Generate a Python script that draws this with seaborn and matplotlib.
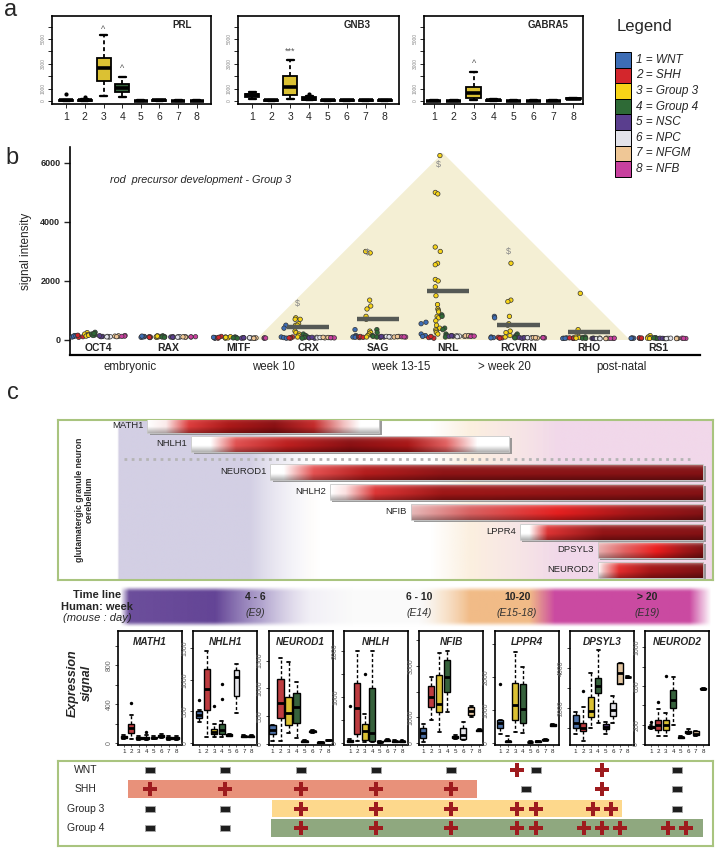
import numpy as np
import pandas as pd
import matplotlib
matplotlib.use("Agg")
import matplotlib.pyplot as plt
import seaborn as sns
from matplotlib.patches import Rectangle, Polygon
from matplotlib.colors import to_rgb

# ---------------- data ----------------
group_ids = ["1", "2", "3", "4", "5", "6", "7", "8"]
group_names = ["WNT", "SHH", "Group 3", "Group 4", "NSC", "NPC", "NFGM", "NFB"]
group_colors = ["#3d6db5", "#d3262c", "#f7d417", "#2e6a36", "#5a3e8e", "#e3e3ea", "#efc796", "#c8409e"]

# panel a: five-number summaries per group [low, q1, median, q3, high] and outliers
PRL_box = [[20, 40, 60, 80, 120], [20, 40, 60, 90, 150], [400, 1600, 2700, 3500, 5300], [300, 700, 1050, 1400, 1900],
           [10, 20, 30, 40, 60], [20, 40, 60, 80, 100], [10, 20, 30, 40, 60], [10, 20, 30, 40, 60]]
PRL_out = [[550], [300], [], [], [], [], [], []]
GNB3_box = [[200, 300, 500, 600, 700], [20, 40, 60, 80, 100], [200, 500, 1100, 2000, 3300], [50, 100, 200, 300, 400],
            [10, 30, 50, 60, 80], [10, 30, 50, 60, 80], [10, 30, 50, 60, 80], [10, 30, 50, 60, 80]]
GNB3_out = [[], [], [], [600], [], [], [], []]
GABRA5_box = [[10, 20, 30, 40, 50], [10, 20, 30, 40, 50], [100, 250, 650, 1100, 2300], [20, 40, 60, 80, 200],
              [10, 20, 30, 40, 50], [10, 20, 30, 40, 50], [10, 20, 30, 40, 50], [150, 180, 200, 220, 250]]
GABRA5_out = [[], [], [], [], [], [], [], []]
a_marks = [("PRL", 2, 5800, "^"), ("PRL", 3, 2600, "^"), ("GNB3", 2, 4000, "***"), ("GABRA5", 2, 3000, "^")]

# panel b: signal intensity per gene, per group
genes_b = ["OCT4", "RAX", "MITF", "CRX", "SAG", "NRL", "RCVRN", "RHO", "RS1"]
OCT4 = [[120, 150, 100, 130, 140], [110, 140, 90, 160], [250, 200, 150, 180, 130, 160], [260, 200, 170, 150, 220],
        [130, 120, 110, 140], [100, 110, 120, 105], [130, 120, 140, 110], [150, 130, 120]]
RAX = [[90, 110, 120, 100, 130], [80, 100, 110, 90], [140, 120, 100, 90, 110, 130], [120, 140, 110, 100, 90],
       [100, 110, 90, 95], [100, 105, 110, 95], [100, 110, 95, 105], [100, 110, 105]]
MITF = [[60, 80, 70, 90], [120, 80, 60, 90], [100, 80, 60, 70, 90, 110], [90, 100, 80, 70, 60],
        [70, 80, 60, 75], [60, 70, 65, 75], [60, 70, 65, 55], [60, 70, 65]]
CRX = [[500, 400, 100, 80, 60], [100, 80, 60, 70], [750, 700, 700, 550, 500, 500, 300, 250, 200, 150, 100],
       [200, 150, 100, 80, 60], [80, 70, 60, 90], [80, 90, 70, 85], [80, 70, 90, 85], [80, 70, 75]]
SAG = [[350, 150, 120, 100, 90], [100, 80, 120, 90], [3000, 2950, 1350, 1150, 1050, 800, 700, 300, 250, 200, 150, 100],
       [350, 250, 150, 120, 100], [100, 110, 90, 120], [110, 120, 100, 105], [110, 100, 120, 115], [110, 100, 105]]
NRL = [[600, 550, 200, 150, 120], [100, 80, 60, 120],
       [6250, 5000, 4950, 3150, 3000, 2600, 2550, 2050, 2000, 1800, 1500, 1200, 1050, 1000, 950, 800, 750, 650,
        500, 400, 350, 300, 250, 200],
       [850, 800, 400, 350, 200, 150, 100], [130, 150, 120, 140], [120, 130, 140, 110], [130, 120, 140, 150], [140, 120, 130]]
RCVRN = [[800, 750, 100, 80, 70], [80, 70, 90, 60], [2600, 1350, 1300, 800, 550, 500, 300, 250, 150, 100],
         [200, 150, 100, 80, 70], [70, 80, 60, 75], [70, 80, 75, 65], [70, 80, 65, 75], [70, 80, 75]]
RHO = [[60, 50, 70, 55], [60, 50, 70, 65], [1580, 350, 250, 100, 80, 60], [100, 80, 60, 50],
       [50, 60, 55, 45], [50, 55, 60, 45], [50, 60, 55, 45], [50, 60, 55]]
RS1 = [[60, 50, 70, 55], [60, 70, 50, 65], [150, 100, 80, 60, 50], [80, 60, 70, 50],
       [50, 60, 55, 45], [50, 55, 60, 45], [50, 60, 55, 45], [50, 60, 55]]
group3_mean = [np.nan, np.nan, np.nan, 440, 710, 1660, 510, 270, np.nan]
dollar_marks = [np.nan, np.nan, np.nan, 1250, 2980, 5930, 3010, np.nan, np.nan]
stages = ["embryonic", "week 10", "week 13-15", "> week 20", "post-natal"]
stage_pos = [0.46, 2.5, 4.32, 5.8, 7.47]

# panel c: timeline of expression (timeline units 0-100)
tf_genes = ["MATH1", "NHLH1", "NEUROD1", "NHLH2", "NFIB", "LPPR4", "DPSYL3", "NEUROD2"]
tf_start = [13.6, 20.3, 32.4, 41.5, 53.9, 70.5, 82.4, 82.4]
tf_end = [49.0, 68.9, 98.5, 98.5, 98.5, 98.5, 98.5, 98.5]
tl_weeks = ["4 - 6", "6 - 10", "10-20", "> 20"]
tl_mouse = ["(E9)", "(E14)", "(E15-18)", "(E19)"]
tl_pos = [30.2, 55.1, 70.1, 89.9]

# panel c expression boxplots
c_genes = ["MATH1", "NHLH1", "NEUROD1", "NHLH", "NFIB", "LPPR4", "DPSYL3", "NEUROD2"]
MATH1_box = [[40, 50, 60, 70, 80], [40, 100, 150, 200, 290], [30, 40, 50, 60, 70], [30, 45, 55, 65, 80],
             [40, 50, 55, 60, 70], [50, 60, 70, 80, 90], [35, 45, 55, 60, 70], [30, 40, 50, 60, 70]]
MATH1_out = [[], [410], [], [110], [], [], [], []]
NHLH1_box = [[330, 400, 450, 500, 520], [90, 520, 850, 1170, 1450], [100, 140, 180, 230, 300], [100, 150, 200, 300, 350],
             [110, 120, 130, 140, 150], [470, 740, 1040, 1150, 1250], [90, 100, 110, 120, 130], [90, 100, 110, 120, 130]]
NHLH1_out = [[680], [], [580], [690, 940], [], [], [], []]
NEUROD1_box = [[50, 180, 250, 340, 350], [50, 470, 740, 1160, 1540], [200, 340, 560, 850, 1480], [100, 380, 670, 920, 1120],
               [30, 40, 50, 60, 70], [200, 210, 230, 240, 250], [20, 25, 30, 35, 40], [60, 65, 70, 75, 80]]
NEUROD1_out = [[], [], [], [], [], [], [], []]
NHLH_box = [[20, 30, 50, 70, 90], [50, 200, 760, 1300, 2000], [30, 70, 260, 410, 630], [30, 50, 220, 1200, 2000],
            [10, 20, 30, 40, 50], [40, 50, 60, 70, 80], [20, 30, 40, 50, 60], [20, 30, 40, 50, 60]]
NHLH_out = [[800], [], [1500], [], [], [], [], []]
NFIB_box = [[50, 190, 390, 580, 740], [900, 1400, 1790, 2220, 2570], [430, 1200, 1520, 2650, 3500], [1200, 2000, 2570, 3230, 3580],
            [150, 200, 230, 260, 300], [100, 150, 300, 600, 820], [1000, 1090, 1250, 1400, 1450], [450, 480, 500, 520, 550]]
NFIB_out = [[], [], [], [], [], [], [], []]
LPPR4_box = [[270, 450, 600, 700, 700], [20, 40, 50, 60, 200], [330, 700, 1150, 1820, 2760], [300, 600, 1030, 1790, 2300],
             [10, 20, 30, 40, 50], [30, 40, 50, 60, 70], [80, 90, 100, 110, 120], [500, 520, 550, 570, 590]]
LPPR4_out = [[1800], [], [], [], [], [], [], []]
DPSYL3_box = [[700, 1000, 1250, 1650, 1800], [350, 850, 1000, 1250, 2050], [1000, 1550, 1850, 2550, 3750],
              [1250, 2750, 3100, 3500, 4900], [700, 950, 1050, 1200, 1300], [1250, 1600, 1900, 2250, 2600],
              [3200, 3200, 3750, 4250, 4250], [3500, 3530, 3550, 3570, 3600]]
DPSYL3_out = [[], [2850], [], [], [], [], [], []]
NEUROD2_box = [[160, 170, 180, 190, 200], [80, 145, 200, 250, 360], [80, 145, 200, 250, 320], [200, 375, 460, 560, 690],
               [60, 65, 70, 75, 80], [100, 110, 125, 140, 160], [80, 90, 100, 130, 140], [560, 565, 570, 575, 580]]
NEUROD2_out = [[230], [430], [700], [], [], [], [], []]

# panel c table
table_rows = ["WNT", "SHH", "Group 3", "Group 4"]
WNT_marks = ["-", "-", "-", "-", "-", "+-", "+", "-"]
SHH_marks = ["+", "+", "+", "+", "+", "-", "+", "-"]
G3_marks = ["-", "-", "+", "+", "+", "++", "++", "-"]
G4_marks = ["-", "-", "+", "+", "+", "++", "+++", "++"]
band_start = [np.nan, -0.29, 1.62, 1.61]
band_end = [np.nan, 4.34, 6.27, 7.34]
band_colors = [None, "#e8917a", "#fdd88c", "#8fa87f"]

# ---------------- figure ----------------
sns.set_theme(style="white")
plt.rcParams["font.family"] = ["Liberation Sans", "DejaVu Sans"]
plt.rcParams["axes.edgecolor"] = "black"

W, H = 723, 850
fig = plt.figure(figsize=(W / 100, H / 100), dpi=100)


def add_ax(x0, y0, x1, y1):
    return fig.add_axes([x0 / W, 1 - y1 / H, (x1 - x0) / W, (y1 - y0) / H])


def ftext(x, y, s, **kw):
    return fig.text(x / W, 1 - y / H, s, **kw)


def box_panel(ax, boxes, outs, lw=1.2, width=0.75, medlw=2.4, fs=4):
    rows = [(group_ids[gi], v) for gi, vals in enumerate(boxes) for v in vals]
    df = pd.DataFrame(rows, columns=["group", "value"])
    sns.boxplot(data=df, x="group", y="value", hue="group", order=group_ids, hue_order=group_ids,
                palette=group_colors, whis=(0, 100), width=width, linewidth=lw, linecolor="black",
                legend=False, ax=ax, whiskerprops=dict(linestyle=(0, (2.2, 1.6))),
                medianprops=dict(linewidth=medlw, color="black"), capprops=dict(linewidth=lw * 1.3))
    for gi, ol in enumerate(outs):
        if ol:
            ax.scatter([gi] * len(ol), ol, s=fs, color="black", zorder=5, linewidths=0)
    ax.set_xlabel("")
    ax.set_ylabel("")
    for sp in ax.spines.values():
        sp.set_color("black")
        sp.set_linewidth(1.2)


# ---- panel a ----
ftext(4, 10, "a", fontsize=17, va="center")
a_specs = [("PRL", PRL_box, PRL_out, (52, 211), 0.82), ("GNB3", GNB3_box, GNB3_out, (238, 399), 0.74),
           ("GABRA5", GABRA5_box, GABRA5_out, (424, 583), 0.78)]
for name, bx, ol, (x0, x1), tx in a_specs:
    ax = add_ax(x0, 16, x1, 104)
    box_panel(ax, bx, ol, lw=1.3, width=0.75, medlw=2.6, fs=9)
    ax.set_ylim(-240, 6850)
    ax.set_yticks(range(0, 7000, 1000))
    ax.set_yticklabels(["0", "1000", "", "3000", "", "5000", ""], rotation=90, va="center", fontsize=3.5, color="#888")
    ax.tick_params(axis="y", left=True, length=3, width=0.7, pad=1.5)
    ax.tick_params(axis="x", bottom=True, length=3, width=0.7, labelsize=7.5, pad=3)
    ax.text(tx, 0.9, name, transform=ax.transAxes, ha="center", va="center", fontsize=7, fontweight="bold")
    for nm, gi, yv, s in a_marks:
        if nm == name:
            ax.text(gi, yv, s, ha="center", va="center", fontsize=6.5, color="#555")

# legend
ftext(617, 27, "Legend", fontsize=12, va="center", ha="left")
for i, (c, gname) in enumerate(zip(group_colors, group_names)):
    fig.add_artist(Rectangle((615 / W, 1 - (52 + 15.6 * (i + 1)) / H), 16 / W, 15.6 / H,
                             transform=fig.transFigure, fc=c, ec="black", lw=0.7))
    ftext(636, 52 + 15.6 * (i + 0.5), f"{group_ids[i]} = {gname}", fontsize=8.5, style="italic", va="center")

# ---- panel b ----
ftext(5, 158, "b", fontsize=17, va="center")
gene_vals = [OCT4, RAX, MITF, CRX, SAG, NRL, RCVRN, RHO, RS1]
rows = [(g, group_ids[gi], v) for g, lists in zip(genes_b, gene_vals) for gi, vals in enumerate(lists) for v in vals]
dfb = pd.DataFrame(rows, columns=["gene", "group", "value"])
axb = add_ax(70, 147, 700, 355)
tri = [(2.25, 0), (4.92, 6340), (7.59, 0)]
axb.add_patch(Polygon(tri, closed=True, facecolor="#f4efd4", edgecolor="none", zorder=0))
np.random.seed(3)
sns.stripplot(data=dfb, x="gene", y="value", hue="group", order=genes_b, hue_order=group_ids,
              palette=group_colors, dodge=True, jitter=0.35, size=3.2, linewidth=0.5, edgecolor="#333333",
              legend=False, ax=axb, zorder=3)
for i, m in enumerate(group3_mean):
    if not np.isnan(m):
        axb.hlines(m, i - 0.3, i + 0.3, colors="#555955", lw=3.2, zorder=4)
for i, d in enumerate(dollar_marks):
    if not np.isnan(d):
        axb.text(i - 0.15, d, "$", ha="center", va="center", fontsize=6.5, color="#888", zorder=5)
axb.set_xlim(-0.4, 8.59)
axb.set_ylim(-510, 6540)
sns.despine(ax=axb)
axb.spines["bottom"].set_linewidth(1.6)
axb.spines["left"].set_linewidth(1.2)
axb.tick_params(axis="x", bottom=False, labelbottom=False)
axb.set_xlabel("")
axb.set_yticks([0, 2000, 4000, 6000])
axb.set_yticklabels(["0", "2000", "4000", "6000"], fontsize=6.5, fontweight="bold")
axb.tick_params(axis="y", left=True, length=4, width=1, pad=3)
axb.set_ylabel("signal intensity", fontsize=8.5, labelpad=6)
tb = axb.get_xaxis_transform()
for i, g in enumerate(genes_b):
    axb.text(i, 0.034, g, transform=tb, ha="center", va="center", fontsize=7.5, fontweight="bold")
for s, p in zip(stages, stage_pos):
    axb.text(p, -0.058, s, transform=tb, ha="center", va="center", fontsize=8.3, clip_on=False)
ftext(110, 180, "rod  precursor development - Group 3", fontsize=7.8, style="italic", va="center")

# ---- panel c ----
ftext(7, 393, "c", fontsize=17, va="center")


def interp_rgba(stops, n, lo=0, hi=100):
    xs = np.array([s[0] for s in stops])
    cols = np.array([to_rgb(s[1]) for s in stops])
    al = np.array([s[2] for s in stops])
    x = np.linspace(lo, hi, n)
    rgb = np.stack([np.interp(x, xs, cols[:, k]) for k in range(3)], axis=1)
    a = np.interp(x, xs, al)
    return np.concatenate([rgb, a[:, None]], axis=1)


def bar_image(stops, n=300, m=24):
    base = interp_rgba([(t, c, 1) for t, c in stops], n, 0, 1)[:, :3]
    v = np.linspace(0, 1, m)[:, None, None]
    light = 0.6 * np.exp(-v / 0.12)
    dark = 0.3 * np.clip((v - 0.6) / 0.4, 0, 1)
    img = base[None, :, :] * (1 - dark)
    img = img * (1 - light) + light
    return np.clip(img, 0, 1)


bar_stops = [
    [(0, "#ffffff"), (0.08, "#fbeaea"), (0.18, "#dc3c3c"), (0.35, "#ac1818"), (0.55, "#8a0f12"), (0.72, "#c42a2a"),
     (0.85, "#f2c0c0"), (0.92, "#ffffff"), (1, "#ffffff")],
    [(0, "#ffffff"), (0.06, "#ffffff"), (0.14, "#e05050"), (0.3, "#bc1e1e"), (0.5, "#8a0f12"), (0.68, "#a81616"),
     (0.8, "#e06060"), (0.9, "#ffffff"), (1, "#ffffff")],
    [(0, "#ffffff"), (0.03, "#ffffff"), (0.1, "#e45050"), (0.22, "#b41c1c"), (0.4, "#8e1315"), (1, "#831114")],
    [(0, "#ffffff"), (0.04, "#fbe0e0"), (0.12, "#dc3434"), (0.3, "#9e1616"), (1, "#841114")],
    [(0, "#e6b8b8"), (0.2, "#d86060"), (0.5, "#e41e1e"), (0.75, "#a41517"), (1, "#821114")],
    [(0, "#ffffff"), (0.05, "#ffffff"), (0.15, "#dc3232"), (0.45, "#921315"), (1, "#841114")],
    [(0, "#e8b0b0"), (0.25, "#e26262"), (0.55, "#ea1c1c"), (0.8, "#a41517"), (1, "#7c1012")],
    [(0, "#ffffff"), (0.05, "#f2c0c0"), (0.2, "#e22c2c"), (0.5, "#a41517"), (1, "#7c1012")],
]
row_y = [0, 0.95, 2.35, 3.35, 4.35, 5.35, 6.25, 7.25]

axc = add_ax(58, 420, 713, 580)
bg_stops = [(0, "#d3cfe4", 0), (9.0, "#d3cfe4", 0), (9.3, "#d3cfe4", 1), (29.3, "#d3cfe4", 1), (37, "#e8e6f0", 0.3),
            (40, "#fbecd8", 0), (57, "#fbecd8", 0), (62.9, "#fbecd8", 0.8), (70, "#f6e0e0", 0.8),
            (76.6, "#f1d8ea", 1), (99.3, "#f1d8ea", 1), (100, "#f1d8ea", 1)]
axc.imshow(interp_rgba(bg_stops, 700)[None, :, :], extent=(0, 100, 7.75, -0.2), aspect="auto", zorder=0,
           interpolation="bilinear")
axc.plot([10, 96.5], [1.7, 1.7], ls=(0, (1, 1.6)), color="#b5b5b5", lw=2, zorder=1)
for i, (g, s, e) in enumerate(zip(tf_genes, tf_start, tf_end)):
    y = row_y[i]
    axc.add_patch(Rectangle((s + 0.4, y - 0.3), e - s, 0.8, fc="#8a8a8a", ec="none", zorder=2, alpha=0.85))
    axc.imshow(bar_image(bar_stops[i]), extent=(s, e, y + 0.4, y - 0.4), aspect="auto", zorder=3,
               interpolation="bilinear")
    axc.add_patch(Rectangle((s, y - 0.4), e - s, 0.8, fill=False, ec="#c8c8c8", lw=0.6, zorder=4))
    axc.text(s - 0.6, y, g, ha="right", va="center", fontsize=6.8, zorder=5)
axc.set_xlim(0, 100)
axc.set_ylim(7.75, -0.25)
axc.set_xticks([])
axc.set_yticks([])
for sp in axc.spines.values():
    sp.set_color("#a9c47f")
    sp.set_linewidth(1.5)
ftext(84, 500, "glutamatergic granule neuron\ncerebellum", rotation=90, ha="center", va="center",
      fontsize=6.3, fontweight="bold", linespacing=1.1)

# timeline band
axt = add_ax(58, 586, 713, 628)
tl_stops = [(0, "#5b3a90", 0), (9.5, "#5b3a90", 0), (10.8, "#5b3a90", 0.9), (24, "#5b3a90", 0.95),
            (31, "#8f7bb8", 0.7), (38.5, "#d8d2e6", 0.35), (45, "#ececec", 0.25), (55, "#eeeeee", 0.25),
            (58.5, "#f5d8b8", 0.6), (62.9, "#f0b47a", 0.9), (72, "#f0b47a", 0.9), (75.9, "#c8409c", 0.95),
            (96.5, "#c8409c", 0.95), (99.8, "#c8409c", 0), (100, "#c8409c", 0)]
band = np.repeat(interp_rgba(tl_stops, 700)[None, :, :], 40, axis=0)
vv = np.linspace(0, 1, 40)
av = np.clip(np.minimum(vv, 1 - vv) / 0.16, 0, 1)
band[:, :, 3] *= (av * av * (3 - 2 * av))[:, None]
axt.imshow(band, extent=(0, 100, 0, 1), aspect="auto", interpolation="bilinear")
axt.set_xlim(0, 100)
axt.set_ylim(0, 1)
axt.axis("off")
for w, m, p in zip(tl_weeks, tl_mouse, tl_pos):
    axt.text(p, 0.74, w, ha="center", va="center", fontsize=7.5, fontweight="bold")
    axt.text(p, 0.36, m, ha="center", va="center", fontsize=7.5, style="italic", color="#333")
ftext(97, 595, "Time line", ha="center", va="center", fontsize=8, fontweight="bold")
ftext(97, 607, "Human: week", ha="center", va="center", fontsize=8, fontweight="bold")
ftext(97, 618, "(mouse : day)", ha="center", va="center", fontsize=8, style="italic")

# expression boxplots
c_boxes = [MATH1_box, NHLH1_box, NEUROD1_box, NHLH_box, NFIB_box, LPPR4_box, DPSYL3_box, NEUROD2_box]
c_outs = [MATH1_out, NHLH1_out, NEUROD1_out, NHLH_out, NFIB_out, LPPR4_out, DPSYL3_out, NEUROD2_out]
c_ylims = [(-20, 1150), (-30, 1770), (-18, 2030), (-43, 2430), (-78, 4360), (-60, 3390), (150, 5850), (-10, 1170)]
c_ticks = [[0, 200, 400, 600, 800, 1000], [0, 500, 1000, 1500], [0, 500, 1000, 1500], [0, 500, 1000, 1500, 2000],
           [0, 1000, 2000, 3000, 4000], [0, 1000, 2000, 3000], [1000, 2000, 3000, 4000, 5000],
           [0, 200, 400, 600, 800, 1000]]
c_labels = [["0", "", "400", "", "800", ""], ["0", "500", "1000", "1500"], ["0", "500", "1000", "1500"],
            ["0", "", "1000", "", "2000"], ["0", "1000", "", "3000", ""], ["0", "1000", "2000", ""],
            ["", "2000", "", "4000", ""], ["0", "200", "", "600", "", "1000"]]
for i in range(8):
    x0 = 118 + 75.3 * i
    ax = add_ax(x0, 631, x0 + 64, 745)
    box_panel(ax, c_boxes[i], c_outs[i], lw=1.0, width=0.8, medlw=2.0, fs=6)
    ax.set_ylim(*c_ylims[i])
    ax.set_yticks(c_ticks[i])
    ax.set_yticklabels(c_labels[i], rotation=90, va="center", fontsize=5, color="#666")
    ax.tick_params(axis="y", left=True, length=2.5, width=0.6, pad=1)
    ax.tick_params(axis="x", bottom=True, length=1.5, width=0.5, labelsize=4.5, pad=1.5)
    ax.text(0.5, 0.9, c_genes[i], transform=ax.transAxes, ha="center", va="center", fontsize=7.2,
            fontweight="bold", style="italic")
ftext(80, 683, "Expression\nsignal", rotation=90, ha="center", va="center", fontsize=9,
      fontweight="bold", style="italic")

# subgroup table
axs = add_ax(58, 761, 713, 846)
axs.set_xlim(-1.222, 7.477)
axs.set_ylim(3.94, -0.466)
for r, (bs, be, bc) in enumerate(zip(band_start, band_end, band_colors)):
    if bc is not None:
        axs.add_patch(Rectangle((bs, r - 0.46), be - bs, 0.92, fc=bc, ec="none", zorder=1))
minus_marker = [(-1, -0.6), (1, -0.6), (1, 0.6), (-1, 0.6), (-1, -0.6)]
for r, (name, marks) in enumerate(zip(table_rows, [WNT_marks, SHH_marks, G3_marks, G4_marks])):
    axs.text(-0.86, r, name, ha="center", va="center", fontsize=7.5)
    for c, mk in enumerate(marks):
        k = len(mk)
        offs = (np.arange(k) - (k - 1) / 2) * 0.24
        for ch, o in zip(mk, offs):
            if ch == "+":
                axs.scatter([c + o], [r], marker="P", s=95, color="#9e1b1e", linewidths=0, zorder=3)
            else:
                axs.scatter([c + o], [r], marker=minus_marker, s=60, color="#1e1e1e", edgecolors="#aaaaaa",
                            linewidths=0.6, zorder=3)
axs.set_xticks([])
axs.set_yticks([])
for sp in axs.spines.values():
    sp.set_color("#a9c47f")
    sp.set_linewidth(1.5)

fig.savefig("out.png", dpi=100)
